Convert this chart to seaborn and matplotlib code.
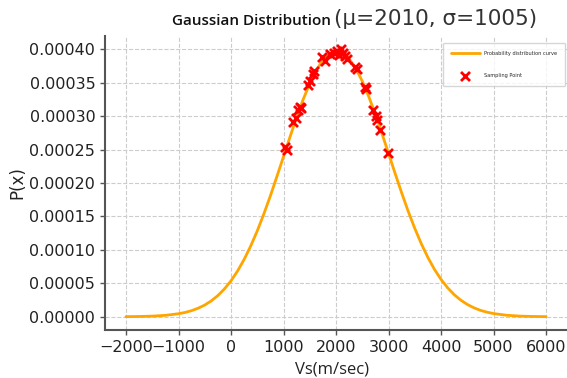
import matplotlib
matplotlib.use("Agg")
import matplotlib.pyplot as plt
import seaborn as sns
import pandas as pd

# Probability distribution curve
curve_x = [-2000, -1750, -1500, -1250, -1000, -875, -750, -625, -500, -375, -250, -125,
           0, 125, 250, 375, 500, 625, 750, 875,
           1000, 1125, 1250, 1375, 1500, 1625, 1750, 1875, 2000, 2125, 2250, 2375,
           2500, 2625, 2750, 2875, 3000, 3125, 3250, 3375, 3500, 3625, 3750, 3875,
           4000, 4125, 4250, 4375, 4500, 4625, 4750, 4875,
           5000, 5250, 5500, 5750, 6000]
curve_y = [1.4e-7, 3.6e-7, 8.9e-7, 2.06e-6, 4.48e-6, 6.44e-6, 9.1e-6, 1.277e-5, 1.75e-5,
           2.374e-5, 3.17e-5, 4.16e-5,
           5.37e-5, 6.84e-5, 8.57e-5, 1.057e-4, 1.284e-4, 1.536e-4, 1.809e-4, 2.099e-4,
           2.396e-4, 2.693e-4, 2.983e-4, 3.251e-4, 3.49e-4,
           3.689e-4, 3.839e-4, 3.934e-4, 3.97e-4, 3.944e-4, 3.859e-4, 3.717e-4, 3.525e-4,
           3.292e-4, 3.028e-4, 2.741e-4, 2.445e-4, 2.146e-4, 1.855e-4, 1.578e-4, 1.323e-4,
           1.092e-4, 8.87e-5, 7.09e-5, 5.59e-5, 4.34e-5, 3.31e-5, 2.49e-5, 1.84e-5,
           1.345e-5, 9.6e-6, 6.82e-6, 4.75e-6, 2.2e-6, 9.5e-7, 3.9e-7, 1.5e-7]

# Sampling points
sample_x = [1030, 1060, 1190, 1240, 1280, 1310, 1330, 1470, 1500, 1560, 1590, 1730,
            1790, 1890, 1960, 2010, 2060, 2100, 2130, 2170, 2200, 2360, 2400, 2550,
            2580, 2710, 2760, 2790, 2840, 2990]
sample_y = [2.54e-4, 2.50e-4, 2.91e-4, 2.98e-4, 3.09e-4, 3.14e-4, 3.12e-4, 3.46e-4,
            3.52e-4, 3.63e-4, 3.68e-4, 3.88e-4, 3.83e-4, 3.93e-4, 3.94e-4, 3.98e-4,
            3.92e-4, 4.00e-4, 3.95e-4, 3.90e-4, 3.86e-4, 3.73e-4, 3.70e-4, 3.43e-4,
            3.40e-4, 3.09e-4, 3.00e-4, 2.94e-4, 2.80e-4, 2.45e-4]

title_main = "Gaussian Distribution"
title_params = "(μ=2010, σ=1005)"
x_label = "Vs(m/sec)"
y_label = "P(x)"
curve_label = "Probability distribution curve"
point_label = "Sampling Point"

sns.set_theme(style="ticks")
plt.rcParams['font.family'] = ['DejaVu Sans']

df_curve = pd.DataFrame({"x": curve_x, "y": curve_y})
df_pts = pd.DataFrame({"x": sample_x, "y": sample_y})

fig = plt.figure(figsize=(5.67, 3.78), dpi=100)
ax = fig.add_axes([105/567, 1-330/378, 1-105/567, (330-36)/378])

sns.lineplot(data=df_curve, x="x", y="y", ax=ax, color="#FFA500", linewidth=2,
             label=curve_label)
sns.scatterplot(data=df_pts, x="x", y="y", ax=ax, marker="x", color="red", s=42,
                linewidth=2, label=point_label, zorder=3)

ax.grid(True, linestyle="--", color="#cccccc", linewidth=0.8)
ax.set_axisbelow(True)
sns.despine(ax=ax)
for s in ["left", "bottom"]:
    ax.spines[s].set_color("#555555")
    ax.spines[s].set_linewidth(1.5)
ax.tick_params(axis="both", labelsize=11.5, colors="#222222", length=3.5, width=1,
               direction="out")
ax.tick_params(axis="both", color="#555555")
ax.set_xticks([-2000, -1000, 0, 1000, 2000, 3000, 4000, 5000, 6000])
ax.set_yticks([0, 0.00005, 0.0001, 0.00015, 0.0002, 0.00025, 0.0003, 0.00035, 0.0004])
ax.set_yticklabels([f"{v:.5f}" for v in ax.get_yticks()])

ax.set_xlabel("")
ax.set_ylabel(y_label, fontsize=12, color="#222222", labelpad=2)
fig.text(332/567, 1-374/378, x_label, ha="center", va="baseline",
         fontsize=12, family=["Open Sans", "DejaVu Sans"], color="#222222")

fig.text(331/567, 1-25/378, title_main, ha="right", va="baseline", fontsize=11,
         family=["Open Sans", "DejaVu Sans"], fontweight="semibold", color="#111111")
fig.text(334/567, 1-25/378, title_params, ha="left", va="baseline", fontsize=15.5,
         family=["DejaVu Sans"], color="#333333")

leg = ax.legend(loc="upper right", bbox_to_anchor=(1 - 2/462, 1 - 7/294),
                fontsize=3.6, frameon=True, labelspacing=3.4,
                borderpad=1.6, handlelength=5.8, handletextpad=0.8,
                borderaxespad=0.0, fancybox=True, markerscale=1.0)
leg.get_frame().set_edgecolor("#cccccc")

fig.savefig("out.png", dpi=100)
